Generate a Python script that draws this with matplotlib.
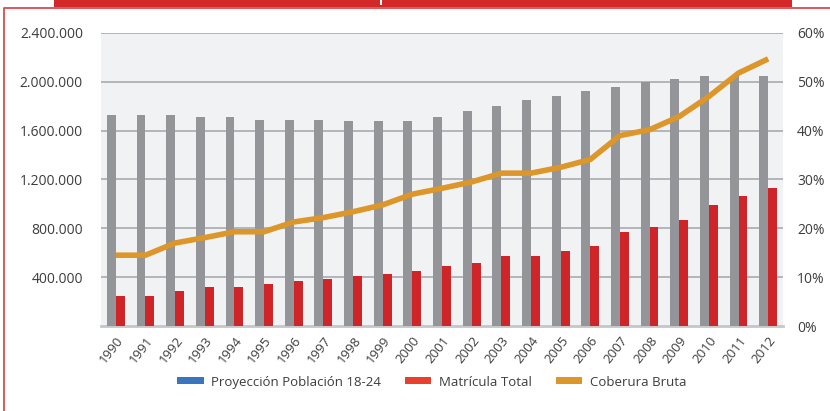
import matplotlib
matplotlib.use('Agg')
import matplotlib.pyplot as plt
from matplotlib.patches import Patch, Rectangle
from matplotlib.lines import Line2D
from matplotlib.ticker import FuncFormatter

years = [str(y) for y in range(1990, 2013)]
poblacion = [1729000, 1729000, 1729000, 1713000, 1713000, 1688000, 1688000, 1688000,
             1680000, 1680000, 1680000, 1713000, 1762000, 1803000, 1852000, 1885000,
             1926000, 1959000, 1995000, 2025000, 2049000, 2050000, 2049000]
matricula = [243500, 243500, 285000, 317000, 317000, 342000, 367000, 383000,
             408000, 424000, 449000, 490000, 514000, 572000, 572000, 613000,
             654000, 769000, 810000, 867000, 990000, 1064000, 1130000]
cobertura = [14.5, 14.5, 17.0, 18.1, 19.3, 19.3, 21.3, 22.2, 23.4, 24.8, 27.0, 28.2,
             29.5, 31.3, 31.3, 32.5, 34.1, 39.0, 40.2, 42.9, 47.0, 51.8, 54.7]
legend_labels = ['Proyección Población 18-24', 'Matrícula Total', 'Coberura Bruta']

plt.rcParams['font.family'] = ['Open Sans', 'DejaVu Sans']
txt = '#3d3d3d'
gray = '#939598'
red = '#cf2528'
orange = '#dc9629'

W, H = 830, 411
fig = plt.figure(figsize=(W / 100, H / 100), dpi=100)
fig.patch.set_facecolor('white')

# decorative frame
fig.add_artist(Rectangle((54 / W, 1 - 7.5 / H), (792 - 54) / W, 7.5 / H,
                         transform=fig.transFigure, facecolor='#d2282a', edgecolor='none'))
fig.add_artist(Rectangle((379.5 / W, 1 - 5 / H), 2 / W, 5 / H,
                         transform=fig.transFigure, facecolor='white', edgecolor='none'))
fig.add_artist(Line2D([3.5 / W, 3.5 / W, 1.0], [0, 1 - 8 / H, 1 - 8 / H],
                      transform=fig.transFigure, color='#e0474b', lw=1.3))

left, right, top, bottom = 101, 783, 33, 326
ax = fig.add_axes([left / W, 1 - bottom / H, (right - left) / W, (bottom - top) / H])
ax.set_facecolor('#f1f2f4')
ax2 = ax.twinx()

x = list(range(len(years)))
bw = 0.3
ax.bar([i - bw / 2 for i in x], poblacion, width=bw, color=gray, zorder=3)
ax.bar([i + bw / 2 for i in x], matricula, width=bw, color=red, zorder=3)
ax.set_xlim(-0.5, len(years) - 0.5)
ax.set_ylim(0, 2400000)
ax.set_yticks([400000, 800000, 1200000, 1600000, 2000000, 2400000])
ax.yaxis.set_major_formatter(FuncFormatter(lambda v, p: '{:,.0f}'.format(v).replace(',', '.')))
ax.grid(axis='y', color='#a9abae', lw=1.2, zorder=1)
ax.set_xticks(x)
ax.set_xticklabels(years, rotation=52, ha='right', va='top', rotation_mode='anchor',
                   fontsize=9.5, color=txt)
ax.tick_params(axis='both', length=0)
ax.tick_params(axis='y', pad=13, labelsize=10, labelcolor=txt)
ax.tick_params(axis='x', pad=6)
for s in ['left', 'right', 'top']:
    ax.spines[s].set_visible(False)
ax.spines['bottom'].set_color('#c4c6c8')
ax.spines['bottom'].set_linewidth(2)

ax2.plot(x, cobertura, color=orange, lw=4, solid_capstyle='butt', solid_joinstyle='round', zorder=5)
ax2.set_ylim(0, 60)
ax2.set_yticks([0, 10, 20, 30, 40, 50, 60])
ax2.yaxis.set_major_formatter(FuncFormatter(lambda v, p: '{:.0f}%'.format(v)))
ax2.tick_params(axis='y', length=0, pad=10, labelsize=10, labelcolor=txt)
for s in ['left', 'right', 'top', 'bottom']:
    ax2.spines[s].set_visible(False)

handles = [Patch(facecolor='#3a76bf', edgecolor='none'),
           Patch(facecolor='#e8402d', edgecolor='none'),
           Patch(facecolor=orange, edgecolor='none')]
fig.legend(handles, legend_labels, loc='center', bbox_to_anchor=(432 / W, 1 - 382 / H),
           ncol=3, frameon=False, fontsize=9.5, handlelength=2.0, handleheight=0.45,
           columnspacing=1.8, handletextpad=0.6, labelcolor=txt)

fig.savefig('out.png', dpi=100)
